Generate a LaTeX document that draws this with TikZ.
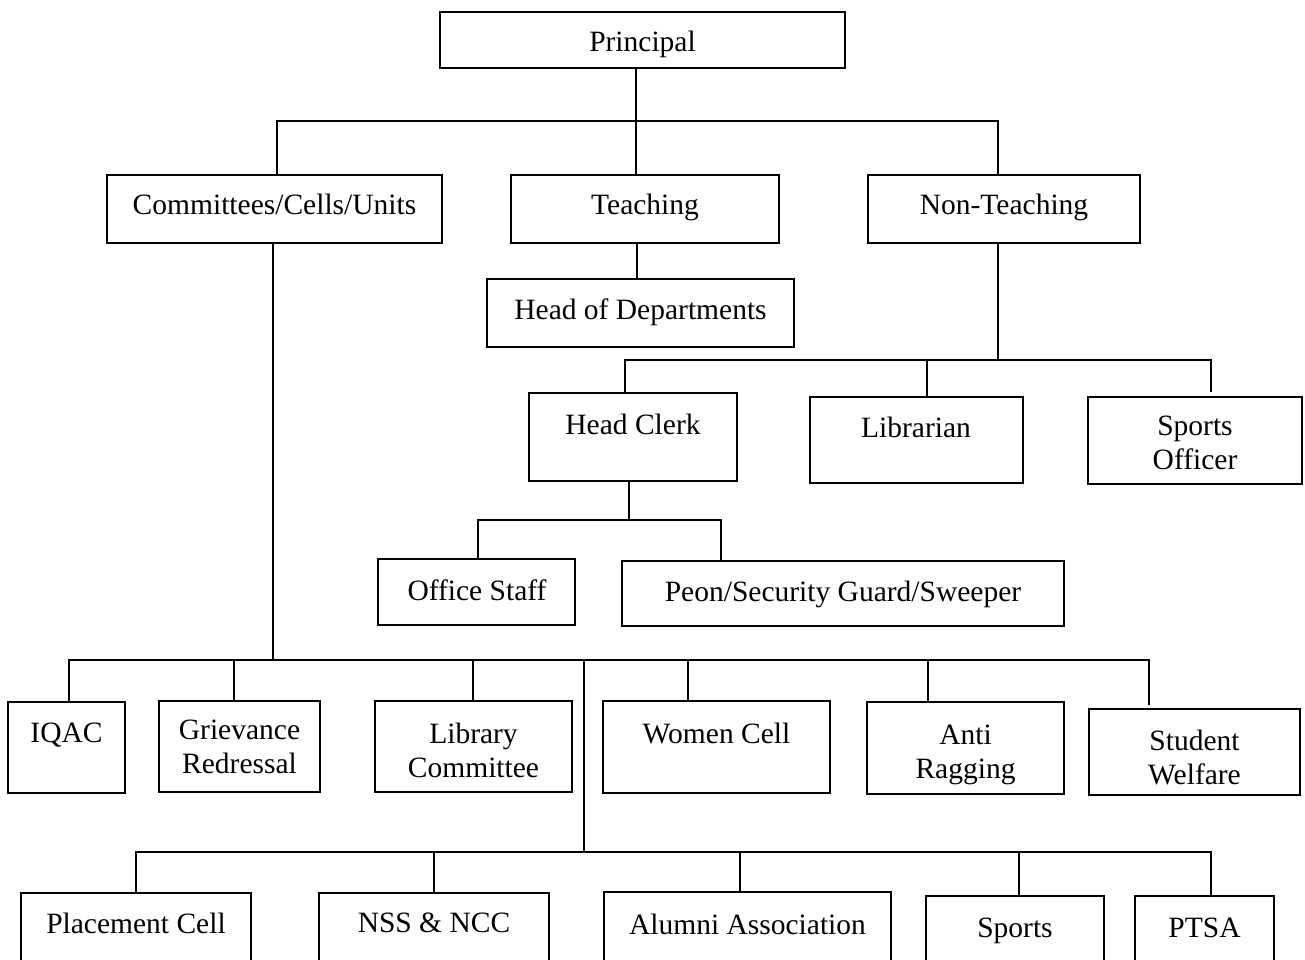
\documentclass[tikz,border=0pt]{standalone}
\usepackage{fontspec}
\setmainfont{Liberation Serif}
\usetikzlibrary{fit}
\begin{document}
\begin{tikzpicture}[x=1pt,y=-1pt,
  box/.style={draw, line width=1.8pt, inner sep=0pt},
  txt/.style={anchor=base, font=\fontsize{29.5}{34}\selectfont, inner sep=0pt, align=center},
  con/.style={line width=1.8pt}]
\useasboundingbox (0,0) rectangle (1305,959);
\clip (0,0) rectangle (1305,959);
% boxes
\node[box, fit={(440,12) (845,68)}] (prin) {};
\node[box, fit={(107,175) (442,243)}] (com) {};
\node[box, fit={(511,175) (779,243)}] (teach) {};
\node[box, fit={(868,175) (1140,243)}] (nt) {};
\node[box, fit={(487,279) (794,347)}] (hod) {};
\node[box, fit={(529,393) (737,481)}] (hc) {};
\node[box, fit={(810,397) (1023,483)}] (lib) {};
\node[box, fit={(1088,397) (1302,484)}] (so) {};
\node[box, fit={(378,559) (575,625)}] (os) {};
\node[box, fit={(622,561) (1064,626)}] (peon) {};
\node[box, fit={(8,702) (125,793)}] (iqac) {};
\node[box, fit={(159,701) (320,792)}] (griev) {};
\node[box, fit={(375,701) (572,792)}] (libc) {};
\node[box, fit={(603,701) (830,793)}] (wom) {};
\node[box, fit={(867,702) (1064,794)}] (anti) {};
\node[box, fit={(1089,709) (1300,795)}] (stu) {};
\node[box, fit={(21,893) (251,985)}] (plc) {};
\node[box, fit={(319,893) (549,985)}] (nss) {};
\node[box, fit={(604,892) (891,985)}] (alu) {};
\node[box, fit={(926,896) (1104,985)}] (spt) {};
\node[box, fit={(1135,896) (1274,985)}] (ptsa) {};
% texts
\node[txt] (prin-t) at (642.5,51) {Principal};
\node[txt] (com-t) at (274.5,214) {Committees/Cells/Units};
\node[txt] (teach-t) at (645,214) {Teaching};
\node[txt] (nt-t) at (1004,214) {Non-Teaching};
\node[txt] (hod-t) at (640.5,319) {Head of Departments};
\node[txt] (hc-t) at (633,434) {Head Clerk};
\node[txt] (lib-t) at (916,437) {Librarian};
\node[txt] (so-t) at (1195,469) {Sports\\Officer};
\node[txt] (os-t) at (477,600) {Office Staff};
\node[txt] (peon-t) at (843,601) {Peon/Security Guard/Sweeper};
\node[txt] (iqac-t) at (66.5,742) {IQAC};
\node[txt] (griev-t) at (239.5,773) {Grievance\\Redressal};
\node[txt] (libc-t) at (473.5,777) {Library\\Committee};
\node[txt] (wom-t) at (716.5,743) {Women Cell};
\node[txt] (anti-t) at (965.5,778) {Anti\\Ragging};
\node[txt] (stu-t) at (1194.5,784) {Student\\Welfare};
\node[txt] (plc-t) at (136,933) {Placement Cell};
\node[txt] (nss-t) at (434,932) {NSS \& NCC};
\node[txt] (alu-t) at (747.5,934) {Alumni Association};
\node[txt] (spt-t) at (1015,937) {Sports};
\node[txt] (ptsa-t) at (1204.5,937) {PTSA};
% connector coordinates
\coordinate (j0) at (636,121);
\coordinate (b1l) at (277,121);
\coordinate (b1r) at (998,121);
\coordinate (j1) at (637,300);
\coordinate (j2) at (998,360);
\coordinate (b2l) at (625,360);
\coordinate (b2m) at (927,360);
\coordinate (b2r) at (1211,360);
\coordinate (e2r) at (1211,392);
\coordinate (j3) at (629,520);
\coordinate (b3l) at (478,520);
\coordinate (b3r) at (721,520);
\coordinate (j4) at (273,660);
\coordinate (b4l) at (69,660);
\coordinate (b4r) at (1149,660);
\coordinate (e4r) at (1149,705);
\coordinate (d4a) at (234,660);
\coordinate (d4b) at (473,660);
\coordinate (d4c) at (688,660);
\coordinate (d4d) at (928,660);
\coordinate (j5) at (584,660);
\coordinate (j6) at (584,852);
\coordinate (b6l) at (136,852);
\coordinate (b6r) at (1211,852);
\coordinate (d6a) at (434,852);
\coordinate (d6b) at (740,852);
\coordinate (d6c) at (1019,852);
% connectors
\draw[con] (prin.south -| j0) -- (teach.north -| j0);
\draw[con] (com.north -| b1l) -- (b1l) -- (b1r) -- (nt.north -| b1r);
\draw[con] (teach.south -| j1) -- (hod.north -| j1);
\draw[con] (nt.south -| j2) -- (j2);
\draw[con] (hc.north -| b2l) -- (b2l) -- (b2r) -- (e2r);
\draw[con] (b2m) -- (lib.north -| b2m);
\draw[con] (hc.south -| j3) -- (j3);
\draw[con] (os.north -| b3l) -- (b3l) -- (b3r) -- (peon.north -| b3r);
\draw[con] (com.south -| j4) -- (j4);
\draw[con] (iqac.north -| b4l) -- (b4l) -- (b4r) -- (e4r);
\draw[con] (d4a) -- (griev.north -| d4a);
\draw[con] (d4b) -- (libc.north -| d4b);
\draw[con] (d4c) -- (wom.north -| d4c);
\draw[con] (d4d) -- (anti.north -| d4d);
\draw[con] (j5) -- (j6);
\draw[con] (plc.north -| b6l) -- (b6l) -- (b6r) -- (ptsa.north -| b6r);
\draw[con] (d6a) -- (nss.north -| d6a);
\draw[con] (d6b) -- (alu.north -| d6b);
\draw[con] (d6c) -- (spt.north -| d6c);
\end{tikzpicture}
\end{document}
